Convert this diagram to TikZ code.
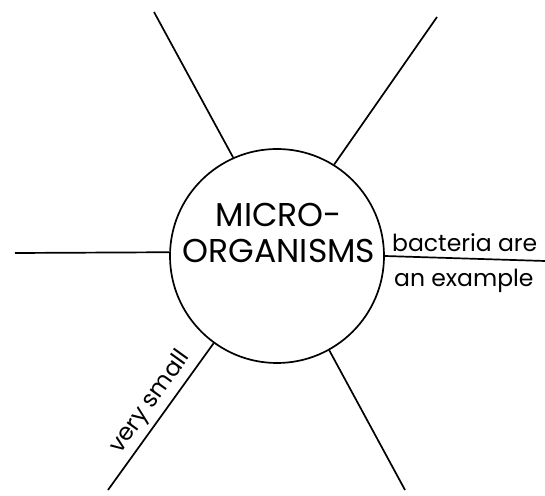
\documentclass[tikz,border=0pt]{standalone}
\usepackage{fontspec}
\setmainfont{Poppins}
\begin{document}
\begin{tikzpicture}[x=1pt,y=1pt,
  ink/.style={line width=1.7pt, black},
  hub/.style={circle, draw, ink, minimum size=214pt, inner sep=0pt},
  hubtext/.style={font=\fontsize{33}{36}\selectfont, align=center, inner sep=0pt},
  lbl/.style={font=\fontsize{23.5}{26}\selectfont, inner sep=0pt}]
\useasboundingbox (0,0) rectangle (545,495);
\node[hub] (c) at (277,239) {};
\node[hubtext] (t) at (279,262) {MICRO-\\ORGANISMS};
\coordinate (ul) at (154,483);
\coordinate (ur) at (437,478);
\coordinate (l) at (15,242);
\coordinate (r) at (545,234);
\coordinate (ll) at (108,5);
\coordinate (lr) at (405,5);
\draw[ink] (c.114.9) -- (ul);
\draw[ink] (c.58.9) -- (ur);
\draw[ink] (c.178.3) -- (l);
\draw[ink] (c.-0.5) -- (r);
\draw[ink] (c.234.8) -- node[lbl, sloped, above=4pt, pos=0.47] (vs) {very small} (ll);
\draw[ink] (c.-61.3) -- (lr);
\node[lbl, anchor=base west] (b1) at (392,243) {bacteria are};
\node[lbl, anchor=base west] (b2) at (394,208) {an example};
\end{tikzpicture}
\end{document}
